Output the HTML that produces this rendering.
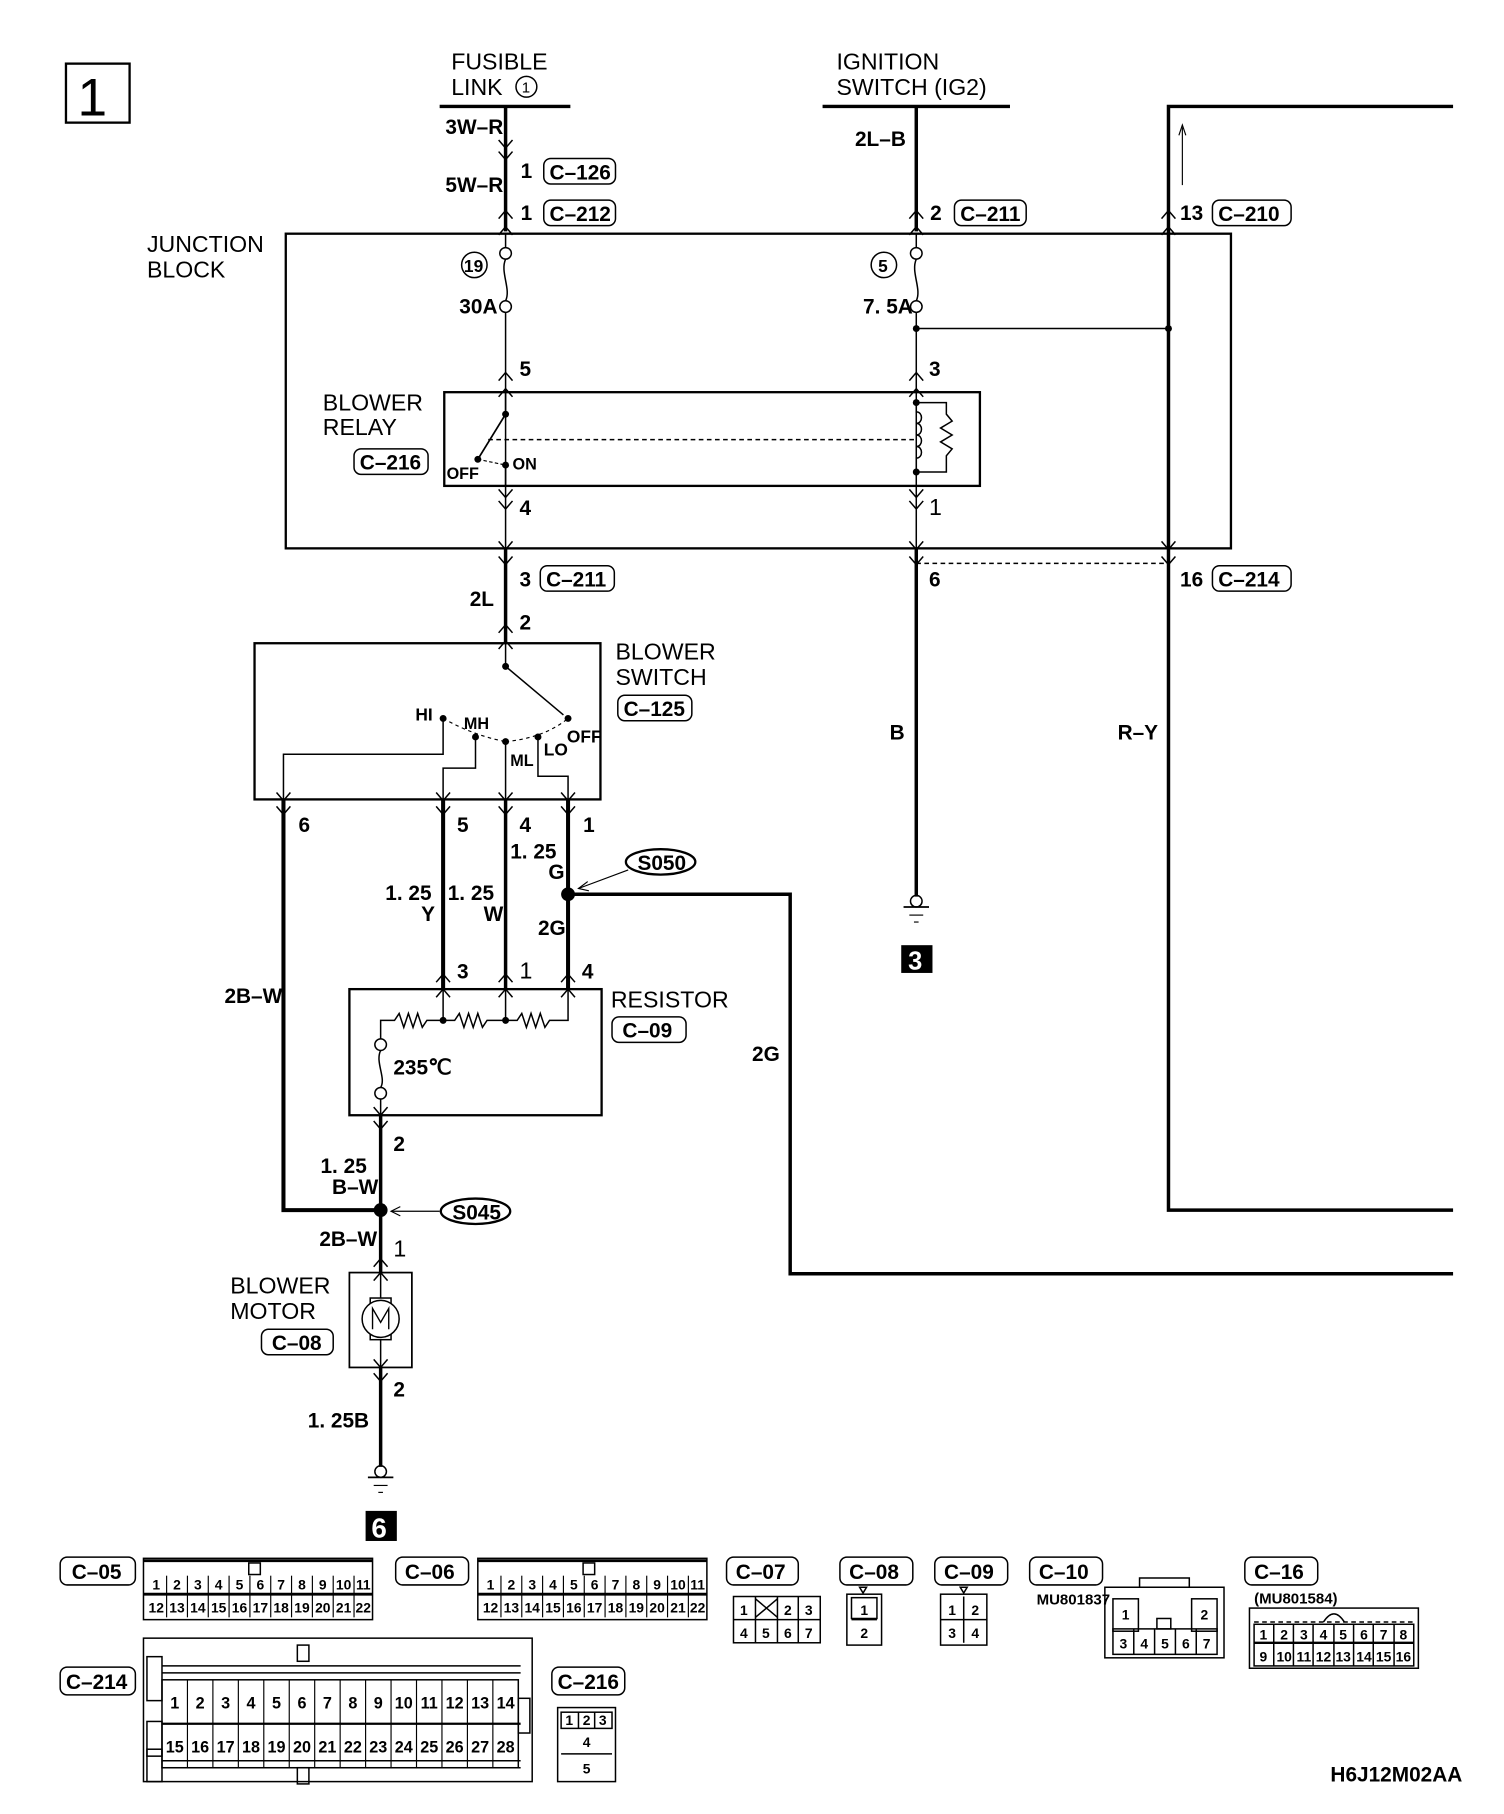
<!DOCTYPE html>
<html><head><meta charset="utf-8"><style>
html,body{margin:0;padding:0;background:#fff}
svg{display:block}
text{font-family:"Liberation Sans Narrow","Liberation Sans",sans-serif;fill:#000}
.b{font-weight:bold;font-size:18px}
.n{font-size:20px}
.s{font-weight:bold;font-size:13px}
.p{font-weight:bold;font-size:12px;text-anchor:middle}
.q{font-weight:bold;font-size:10px;text-anchor:middle}
.r{font-weight:bold;font-size:14px;text-anchor:middle}
</style></head><body>
<svg width="1504" height="1814" viewBox="0 0 1300 1568" xmlns="http://www.w3.org/2000/svg">
<defs>
<path id="u" d="M-6,7 L0,0 L6,7" fill="none" stroke="#000" stroke-width="1.3"/>
<path id="d" d="M-6,-7 L0,0 L6,-7" fill="none" stroke="#000" stroke-width="1.3"/>
</defs>
<g fill="none" stroke="#000">
<rect x="57" y="55" width="55" height="51" stroke-width="2"/>
<line x1="380" y1="92" x2="493" y2="92" stroke-width="3"/>
<line x1="711" y1="92" x2="873" y2="92" stroke-width="3"/>
<polyline points="1256,92 1010,92 1010,1046 1256,1046" stroke-width="3"/>
<line x1="1022" y1="160" x2="1022" y2="110" stroke-width="1"/>
<path d="M1019,117 L1022,108 L1025,117" stroke-width="1"/>
<line x1="437" y1="92" x2="437" y2="200" stroke-width="3"/>
<line x1="792" y1="92" x2="792" y2="200" stroke-width="3"/>
<rect x="247" y="202" width="817" height="272" stroke-width="2"/>
<line x1="437" y1="202" x2="437" y2="214" stroke-width="1.3"/>
<circle cx="437" cy="219" r="5" stroke-width="1.3"/>
<path d="M437,224 C432,235 442,250 437,260" stroke-width="1.3"/>
<circle cx="437" cy="265" r="5" stroke-width="1.3"/>
<line x1="437" y1="270" x2="437" y2="474" stroke-width="1.3"/>
<line x1="792" y1="202" x2="792" y2="214" stroke-width="1.3"/>
<circle cx="792" cy="219" r="5" stroke-width="1.3"/>
<path d="M792,224 C787,235 797,250 792,260" stroke-width="1.3"/>
<circle cx="792" cy="265" r="5" stroke-width="1.3"/>
<line x1="792" y1="270" x2="792" y2="474" stroke-width="1.3"/>
<line x1="792" y1="284" x2="1010" y2="284" stroke-width="1.3"/>
<line x1="1010" y1="202" x2="1010" y2="474" stroke-width="1.3"/>
<rect x="384" y="339" width="463" height="81" stroke-width="2"/>
<line x1="437" y1="339" x2="437" y2="358" stroke-width="1.3"/>
<line x1="437" y1="358" x2="413" y2="397" stroke-width="1.5"/>
<line x1="422" y1="380" x2="790" y2="380" stroke-width="1.3" stroke-dasharray="4,3"/>
<path d="M413,397 L437,402" stroke-width="1" stroke-dasharray="3,2"/>
<line x1="437" y1="402" x2="437" y2="420" stroke-width="1.3"/>
<path d="M792,348 L818,348 L818,358 L823,364 L813,370 L823,376 L813,382 L823,388 L818,394 L818,408 L792,408" stroke-width="1.3"/>
<path d="M792,348 L792,356 C798,356 798,366 792,366 C798,366 798,376 792,376 C798,376 798,386 792,386 C798,386 798,396 792,396 L792,408" stroke-width="1.3"/>
<line x1="792" y1="487" x2="1010" y2="487" stroke-width="1.3" stroke-dasharray="4,3"/>
<line x1="437" y1="474" x2="437" y2="556" stroke-width="3"/>
<line x1="792" y1="474" x2="792" y2="775" stroke-width="3"/>
<rect x="220" y="556" width="299" height="135" stroke-width="2"/>
<line x1="437" y1="556" x2="437" y2="576" stroke-width="1.3"/>
<line x1="437" y1="576" x2="487" y2="618" stroke-width="1.3"/>
<path d="M383,621 Q410,636 437,641" stroke-width="1" stroke-dasharray="3,3"/>
<path d="M437,641 Q470,638 491,621" stroke-width="1" stroke-dasharray="3,3"/>
<polyline points="383,621 383,652 245,652 245,691" stroke-width="1.3"/>
<polyline points="411,637 411,664 383,664 383,691" stroke-width="1.3"/>
<line x1="437" y1="641" x2="437" y2="691" stroke-width="1.3"/>
<polyline points="465,637 465,671 491,671 491,691" stroke-width="1.3"/>
<polyline points="245,691 245,1046 329,1046" stroke-width="3.5"/>
<line x1="383" y1="691" x2="383" y2="855" stroke-width="3.5"/>
<line x1="437" y1="691" x2="437" y2="855" stroke-width="3"/>
<line x1="491" y1="691" x2="491" y2="855" stroke-width="3.5"/>
<polyline points="491,773 683,773 683,1101 1256,1101" stroke-width="3"/>
<ellipse cx="571" cy="745" rx="30" ry="11" stroke-width="2"/>
<line x1="543" y1="752" x2="500" y2="768" stroke-width="1"/>
<path d="M508,762 L500,768 L509,770" stroke-width="1"/>
<rect x="302" y="855" width="218" height="109" stroke-width="2"/>
<path d="M329,898 L329,882 L341,882 L345,876 L349,888 L353,876 L357,888 L361,876 L365,888 L369,882 L383,882 L393,882 L397,876 L401,888 L405,876 L409,888 L413,876 L417,888 L421,882 L437,882 L447,882 L451,876 L455,888 L459,876 L463,888 L467,876 L471,888 L475,882 L491,882 L491,855" stroke-width="1.3"/>
<line x1="383" y1="855" x2="383" y2="882" stroke-width="1.3"/>
<line x1="437" y1="855" x2="437" y2="882" stroke-width="1.3"/>
<circle cx="329" cy="903" r="5" stroke-width="1.3"/>
<path d="M329,908 C324,918 334,932 329,940" stroke-width="1.3"/>
<circle cx="329" cy="945" r="5" stroke-width="1.3"/>
<line x1="329" y1="950" x2="329" y2="964" stroke-width="1.3"/>
<line x1="329" y1="964" x2="329" y2="1100" stroke-width="3"/>
<ellipse cx="411" cy="1047" rx="30" ry="11" stroke-width="2"/>
<line x1="380" y1="1047" x2="338" y2="1047" stroke-width="1"/>
<path d="M346,1043 L338,1047 L346,1051" stroke-width="1"/>
<rect x="302" y="1100" width="54" height="82" stroke-width="1.5"/>
<line x1="329" y1="1100" x2="329" y2="1122" stroke-width="1.3"/>
<rect x="320" y="1122" width="18" height="36" stroke-width="1.3" fill="#fff"/>
<circle cx="329" cy="1140" r="16" stroke-width="1.3" fill="#fff"/>
<path d="M322,1149 L322,1131 L329,1143 L336,1131 L336,1149" stroke-width="1.2"/>
<line x1="329" y1="1158" x2="329" y2="1182" stroke-width="1.3"/>
<line x1="329" y1="1182" x2="329" y2="1268" stroke-width="3"/>
<circle cx="329" cy="1272" r="5" stroke-width="1.3"/>
<line x1="318" y1="1277" x2="340" y2="1277" stroke-width="1.5"/>
<line x1="323" y1="1284" x2="335" y2="1284" stroke-width="1"/>
<line x1="327" y1="1290" x2="331" y2="1290" stroke-width="1"/>
<circle cx="792" cy="779" r="5" stroke-width="1.3"/>
<line x1="781" y1="784" x2="803" y2="784" stroke-width="1.5"/>
<line x1="786" y1="791" x2="798" y2="791" stroke-width="1"/>
<line x1="790" y1="797" x2="794" y2="797" stroke-width="1"/>
</g>
<g fill="#000">
<circle cx="792" cy="284" r="3"/><circle cx="1010" cy="284" r="3"/>
<circle cx="437" cy="358" r="3"/><circle cx="413" cy="397" r="3"/><circle cx="437" cy="402" r="3"/>
<circle cx="792" cy="348" r="3"/><circle cx="792" cy="408" r="3"/>
<circle cx="437" cy="576" r="3"/><circle cx="491" cy="621" r="3"/>
<circle cx="383" cy="621" r="3"/><circle cx="411" cy="637" r="3"/><circle cx="437" cy="641" r="3"/><circle cx="465" cy="637" r="3"/>
<circle cx="491" cy="773" r="6"/><circle cx="329" cy="1046" r="6"/>
<circle cx="383" cy="882" r="3"/><circle cx="437" cy="882" r="3"/>
<rect x="779" y="817" width="27" height="24"/>
<rect x="316" y="1306" width="27" height="26"/>
</g>
<use href="#d" x="437" y="128"/><use href="#d" x="437" y="138"/>
<use href="#u" x="437" y="182"/><use href="#u" x="437" y="196"/>
<use href="#u" x="792" y="182"/><use href="#u" x="792" y="196"/>
<use href="#u" x="1010" y="182"/><use href="#u" x="1010" y="196"/>
<use href="#u" x="437" y="322"/><use href="#u" x="437" y="336"/>
<use href="#u" x="792" y="322"/><use href="#u" x="792" y="336"/>
<use href="#d" x="437" y="430"/><use href="#d" x="437" y="440"/>
<use href="#d" x="792" y="430"/><use href="#d" x="792" y="440"/>
<use href="#d" x="437" y="475"/><use href="#d" x="437" y="488"/>
<use href="#d" x="792" y="475"/><use href="#d" x="792" y="488"/>
<use href="#d" x="1010" y="475"/><use href="#d" x="1010" y="488"/>
<use href="#u" x="437" y="540"/><use href="#u" x="437" y="554"/>
<use href="#d" x="245" y="692"/><use href="#d" x="245" y="704"/>
<use href="#d" x="383" y="692"/><use href="#d" x="383" y="704"/>
<use href="#d" x="437" y="692"/><use href="#d" x="437" y="704"/>
<use href="#d" x="491" y="692"/><use href="#d" x="491" y="704"/>
<use href="#u" x="383" y="842"/><use href="#u" x="383" y="855"/>
<use href="#u" x="437" y="842"/><use href="#u" x="437" y="855"/>
<use href="#u" x="491" y="842"/><use href="#u" x="491" y="855"/>
<use href="#d" x="329" y="964"/><use href="#d" x="329" y="976"/>
<use href="#u" x="329" y="1088"/><use href="#u" x="329" y="1100"/>
<use href="#d" x="329" y="1182"/><use href="#d" x="329" y="1194"/>
<text x="67" y="100" font-size="46">1</text>
<text class="n" x="390" y="60">FUSIBLE</text><text class="n" x="390" y="82">LINK</text>
<circle cx="455" cy="75" r="9" fill="none" stroke="#000" stroke-width="1.3"/><text x="451" y="80" font-size="13">1</text>
<text class="n" x="723" y="60">IGNITION</text><text class="n" x="723" y="82">SWITCH (IG2)</text>
<text class="b" x="385" y="116">3W–R</text>
<text class="b" x="385" y="166">5W–R</text>
<text class="b" x="739" y="126">2L–B</text>
<text class="b" x="450" y="154">1</text>
<text class="b" x="450" y="190">1</text>
<text class="b" x="804" y="190">2</text>
<text class="b" x="1020" y="190">13</text>
<text class="n" x="127" y="218">JUNCTION</text><text class="n" x="127" y="240">BLOCK</text>
<circle cx="410" cy="229" r="11" fill="none" stroke="#000" stroke-width="1.3"/><text x="401" y="235" font-size="15" font-weight="bold">19</text>
<circle cx="764" cy="229" r="11" fill="none" stroke="#000" stroke-width="1.3"/><text x="759" y="235" font-size="15" font-weight="bold">5</text>
<text class="b" x="397" y="271" font-size="16">30A</text>
<text class="b" x="746" y="271" font-size="16">7. 5A</text>
<text class="b" x="449" y="325">5</text><text class="b" x="803" y="325">3</text>
<text class="b" x="449" y="445">4</text><text class="n" x="803" y="445">1</text>
<text class="n" x="279" y="355">BLOWER</text><text class="n" x="279" y="376">RELAY</text>
<text x="386" y="414" font-size="14" font-weight="bold">OFF</text>
<text x="443" y="406" font-size="14" font-weight="bold">ON</text>
<text class="b" x="449" y="507">3</text><text class="b" x="803" y="507">6</text><text class="b" x="1020" y="507">16</text>
<text class="b" x="406" y="524">2L</text><text class="b" x="449" y="544">2</text>
<text class="n" x="532" y="570">BLOWER</text><text class="n" x="532" y="592">SWITCH</text>
<text x="359" y="623" font-size="15" font-weight="bold">HI</text>
<text x="401" y="630" font-size="14" font-weight="bold">MH</text>
<text x="441" y="662" font-size="14" font-weight="bold">ML</text>
<text x="470" y="653" font-size="15" font-weight="bold">LO</text>
<text x="490" y="642" font-size="15" font-weight="bold">OFF</text>
<text class="b" x="258" y="719">6</text><text class="b" x="395" y="719">5</text><text class="b" x="449" y="719">4</text><text class="b" x="504" y="719">1</text>
<text class="b" x="441" y="742">1. 25</text><text class="b" x="474" y="760">G</text>
<text class="b" x="333" y="778">1. 25</text><text class="b" x="364" y="796">Y</text>
<text class="b" x="387" y="778">1. 25</text><text class="b" x="418" y="796">W</text>
<text class="b" x="465" y="808">2G</text>
<text class="b" x="551" y="752" font-size="16">S050</text>
<text class="b" x="769" y="639">B</text><text class="b" x="966" y="639">R–Y</text>
<text x="785" y="838" font-size="22" font-weight="bold" style="fill:#fff">3</text>
<text class="b" x="395" y="846">3</text><text class="n" x="449" y="846">1</text><text class="b" x="503" y="846">4</text>
<text class="n" x="528" y="871">RESISTOR</text>
<text class="b" x="340" y="929" font-size="16">235℃</text>
<text class="b" x="194" y="867">2B–W</text>
<text class="b" x="650" y="917">2G</text>
<text class="b" x="340" y="995">2</text>
<text class="b" x="277" y="1014">1. 25</text><text class="b" x="287" y="1032">B–W</text>
<text class="b" x="391" y="1054" font-size="16">S045</text>
<text class="b" x="276" y="1077">2B–W</text>
<text class="n" x="340" y="1086">1</text>
<text class="n" x="199" y="1118">BLOWER</text><text class="n" x="199" y="1140">MOTOR</text>
<text class="b" x="340" y="1207">2</text>
<text class="b" x="266" y="1234">1. 25B</text>
<text x="321" y="1329" font-size="24" font-weight="bold" style="fill:#fff">6</text>
<text class="b" x="1150" y="1540" font-size="16">H6J12M02AA</text>
<text class="s" x="896" y="1387">MU801837</text>
<text class="s" x="1084" y="1386">(MU801584)</text>
<g fill="none" stroke="#000" stroke-width="1.3">
<rect x="470" y="137" width="62" height="22" rx="6"/>
<rect x="470" y="173" width="62" height="22" rx="6"/>
<rect x="825" y="173" width="62" height="22" rx="6"/>
<rect x="1048" y="173" width="68" height="22" rx="6"/>
<rect x="306" y="388" width="64" height="22" rx="6"/>
<rect x="467" y="489" width="64" height="22" rx="6"/>
<rect x="1048" y="489" width="68" height="22" rx="6"/>
<rect x="534" y="601" width="64" height="22" rx="6"/>
<rect x="529" y="879" width="64" height="22" rx="6"/>
<rect x="226" y="1149" width="62" height="22" rx="6"/>
<rect x="52" y="1346" width="65" height="24" rx="6"/>
<rect x="342" y="1346" width="63" height="24" rx="6"/>
<rect x="628" y="1346" width="62" height="24" rx="6"/>
<rect x="726" y="1346" width="63" height="24" rx="6"/>
<rect x="808" y="1346" width="63" height="24" rx="6"/>
<rect x="890" y="1346" width="63" height="24" rx="6"/>
<rect x="1076" y="1346" width="63" height="24" rx="6"/>
<rect x="52" y="1441" width="65" height="24" rx="6"/>
<rect x="477" y="1441" width="63" height="24" rx="6"/>
</g>
<g class="b">
<text x="475" y="155">C–126</text><text x="475" y="191">C–212</text><text x="830" y="191">C–211</text><text x="1053" y="191">C–210</text>
<text x="311" y="406">C–216</text><text x="472" y="507">C–211</text><text x="1053" y="507">C–214</text>
<text x="539" y="619">C–125</text><text x="538" y="897">C–09</text><text x="235" y="1167">C–08</text>
<text x="62" y="1365">C–05</text><text x="350" y="1365">C–06</text><text x="636" y="1365">C–07</text><text x="734" y="1365">C–08</text><text x="816" y="1365">C–09</text><text x="898" y="1365">C–10</text><text x="1084" y="1365">C–16</text>
<text x="57" y="1460">C–214</text><text x="482" y="1460">C–216</text>
</g>
<g fill="none" stroke="#000" stroke-width="1.3">
<rect x="124" y="1347" width="198" height="53"/><line x1="124" y1="1349" x2="322" y2="1349" stroke-width="2.5"/>
<line x1="124" y1="1378" x2="322" y2="1378" stroke-width="2.5"/>
<rect x="413" y="1347" width="198" height="53"/><line x1="413" y1="1349" x2="611" y2="1349" stroke-width="2.5"/>
<line x1="413" y1="1378" x2="611" y2="1378" stroke-width="2.5"/>
<rect x="215" y="1351" width="10" height="10"/><rect x="504" y="1351" width="10" height="10"/>
<rect x="634" y="1380" width="75" height="40"/><line x1="634" y1="1400" x2="709" y2="1400"/>
<line x1="653" y1="1380" x2="653" y2="1420"/><line x1="672" y1="1380" x2="672" y2="1420"/><line x1="690" y1="1380" x2="690" y2="1420"/>
<line x1="653" y1="1382" x2="672" y2="1398"/><line x1="672" y1="1382" x2="653" y2="1398"/>
<rect x="732" y="1378" width="30" height="44"/><rect x="736" y="1381" width="22" height="18"/><line x1="736" y1="1400" x2="758" y2="1400"/>
<path d="M743,1372 L749,1372 L746,1377Z"/>
<rect x="813" y="1378" width="40" height="44"/><line x1="813" y1="1400" x2="853" y2="1400"/><line x1="833" y1="1380" x2="833" y2="1420"/>
<path d="M830,1372 L836,1372 L833,1377Z"/>
<rect x="955" y="1372" width="103" height="61"/><rect x="985" y="1364" width="43" height="8"/>
<rect x="962" y="1382" width="22" height="28"/><rect x="1030" y="1382" width="22" height="28"/>
<rect x="962" y="1408" width="90" height="22"/>
<line x1="980" y1="1408" x2="980" y2="1430"/><line x1="998" y1="1408" x2="998" y2="1430"/><line x1="1016" y1="1408" x2="1016" y2="1430"/><line x1="1034" y1="1408" x2="1034" y2="1430"/>
<rect x="1000" y="1399" width="12" height="9"/>
<rect x="1080" y="1390" width="146" height="52"/>
<line x1="1084" y1="1402" x2="1222" y2="1402" stroke-dasharray="4,3"/><line x1="1084" y1="1420" x2="1222" y2="1420" stroke-width="2"/>
<rect x="1084" y="1404" width="138" height="36"/>
<line x1="1101" y1="1404" x2="1101" y2="1440"/><line x1="1118" y1="1404" x2="1118" y2="1440"/><line x1="1135" y1="1404" x2="1135" y2="1440"/><line x1="1153" y1="1404" x2="1153" y2="1440"/><line x1="1170" y1="1404" x2="1170" y2="1440"/><line x1="1187" y1="1404" x2="1187" y2="1440"/><line x1="1205" y1="1404" x2="1205" y2="1440"/>
<path d="M1144,1402 Q1153,1388 1162,1402"/>
<rect x="124" y="1416" width="336" height="124"/>
<line x1="140" y1="1440" x2="450" y2="1440"/><line x1="140" y1="1446" x2="450" y2="1446"/>
<line x1="140" y1="1490" x2="450" y2="1490" stroke-width="2"/>
<line x1="140" y1="1528" x2="450" y2="1528"/><line x1="140" y1="1522" x2="450" y2="1522"/>
<rect x="140" y="1452" width="308" height="76"/>
<rect x="127" y="1432" width="13" height="38"/><rect x="127" y="1488" width="13" height="30"/><rect x="127" y="1512" width="13" height="28"/>
<rect x="257" y="1422" width="10" height="14"/><rect x="257" y="1528" width="10" height="14"/>
<rect x="448" y="1468" width="10" height="30"/>
<rect x="482" y="1476" width="50" height="64"/><rect x="485" y="1480" width="44" height="14"/>
<line x1="500" y1="1480" x2="500" y2="1494"/><line x1="514" y1="1480" x2="514" y2="1494"/>
<line x1="485" y1="1516" x2="529" y2="1516"/>
</g>
<g stroke="#000" stroke-width="1">
<line x1="162" y1="1452" x2="162" y2="1528"/><line x1="184" y1="1452" x2="184" y2="1528"/><line x1="206" y1="1452" x2="206" y2="1528"/><line x1="228" y1="1452" x2="228" y2="1528"/><line x1="250" y1="1452" x2="250" y2="1528"/><line x1="272" y1="1452" x2="272" y2="1528"/><line x1="294" y1="1452" x2="294" y2="1528"/><line x1="316" y1="1452" x2="316" y2="1528"/><line x1="338" y1="1452" x2="338" y2="1528"/><line x1="360" y1="1452" x2="360" y2="1528"/><line x1="382" y1="1452" x2="382" y2="1528"/><line x1="404" y1="1452" x2="404" y2="1528"/><line x1="426" y1="1452" x2="426" y2="1528"/>
<line x1="144" y1="1362" x2="144" y2="1398"/><line x1="162" y1="1362" x2="162" y2="1398"/><line x1="180" y1="1362" x2="180" y2="1398"/><line x1="198" y1="1362" x2="198" y2="1398"/><line x1="216" y1="1362" x2="216" y2="1398"/><line x1="234" y1="1362" x2="234" y2="1398"/><line x1="252" y1="1362" x2="252" y2="1398"/><line x1="270" y1="1362" x2="270" y2="1398"/><line x1="288" y1="1362" x2="288" y2="1398"/><line x1="306" y1="1362" x2="306" y2="1398"/>
<line x1="433" y1="1362" x2="433" y2="1398"/><line x1="451" y1="1362" x2="451" y2="1398"/><line x1="469" y1="1362" x2="469" y2="1398"/><line x1="487" y1="1362" x2="487" y2="1398"/><line x1="505" y1="1362" x2="505" y2="1398"/><line x1="523" y1="1362" x2="523" y2="1398"/><line x1="541" y1="1362" x2="541" y2="1398"/><line x1="559" y1="1362" x2="559" y2="1398"/><line x1="577" y1="1362" x2="577" y2="1398"/><line x1="595" y1="1362" x2="595" y2="1398"/>
</g>
<g class="p">
<text x="135" y="1374">1</text><text x="153" y="1374">2</text><text x="171" y="1374">3</text><text x="189" y="1374">4</text><text x="207" y="1374">5</text><text x="225" y="1374">6</text><text x="243" y="1374">7</text><text x="261" y="1374">8</text><text x="279" y="1374">9</text><text x="297" y="1374">10</text><text x="314" y="1374">11</text>
<text x="135" y="1394">12</text><text x="153" y="1394">13</text><text x="171" y="1394">14</text><text x="189" y="1394">15</text><text x="207" y="1394">16</text><text x="225" y="1394">17</text><text x="243" y="1394">18</text><text x="261" y="1394">19</text><text x="279" y="1394">20</text><text x="297" y="1394">21</text><text x="314" y="1394">22</text>
<text x="424" y="1374">1</text><text x="442" y="1374">2</text><text x="460" y="1374">3</text><text x="478" y="1374">4</text><text x="496" y="1374">5</text><text x="514" y="1374">6</text><text x="532" y="1374">7</text><text x="550" y="1374">8</text><text x="568" y="1374">9</text><text x="586" y="1374">10</text><text x="603" y="1374">11</text>
<text x="424" y="1394">12</text><text x="442" y="1394">13</text><text x="460" y="1394">14</text><text x="478" y="1394">15</text><text x="496" y="1394">16</text><text x="514" y="1394">17</text><text x="532" y="1394">18</text><text x="550" y="1394">19</text><text x="568" y="1394">20</text><text x="586" y="1394">21</text><text x="603" y="1394">22</text>
<text x="643" y="1396">1</text><text x="681" y="1396">2</text><text x="699" y="1396">3</text>
<text x="643" y="1416">4</text><text x="662" y="1416">5</text><text x="681" y="1416">6</text><text x="699" y="1416">7</text>
<text x="747" y="1396">1</text><text x="747" y="1416">2</text>
<text x="823" y="1396">1</text><text x="843" y="1396">2</text><text x="823" y="1416">3</text><text x="843" y="1416">4</text>
<text x="973" y="1400">1</text><text x="1041" y="1400">2</text>
<text x="971" y="1425">3</text><text x="989" y="1425">4</text><text x="1007" y="1425">5</text><text x="1025" y="1425">6</text><text x="1043" y="1425">7</text>
<text x="1092" y="1417">1</text><text x="1110" y="1417">2</text><text x="1127" y="1417">3</text><text x="1144" y="1417">4</text><text x="1161" y="1417">5</text><text x="1179" y="1417">6</text><text x="1196" y="1417">7</text><text x="1213" y="1417">8</text>
<text x="1092" y="1436">9</text><text x="1110" y="1436">10</text><text x="1127" y="1436">11</text><text x="1144" y="1436">12</text><text x="1161" y="1436">13</text><text x="1179" y="1436">14</text><text x="1196" y="1436">15</text><text x="1213" y="1436">16</text>
<text x="492" y="1491">1</text><text x="507" y="1491">2</text><text x="521" y="1491">3</text>
<text x="507" y="1510">4</text><text x="507" y="1533">5</text>
</g>
<g class="r">
<text x="151" y="1477">1</text><text x="173" y="1477">2</text><text x="195" y="1477">3</text><text x="217" y="1477">4</text><text x="239" y="1477">5</text><text x="261" y="1477">6</text><text x="283" y="1477">7</text><text x="305" y="1477">8</text><text x="327" y="1477">9</text><text x="349" y="1477">10</text><text x="371" y="1477">11</text><text x="393" y="1477">12</text><text x="415" y="1477">13</text><text x="437" y="1477">14</text>
<text x="151" y="1515">15</text><text x="173" y="1515">16</text><text x="195" y="1515">17</text><text x="217" y="1515">18</text><text x="239" y="1515">19</text><text x="261" y="1515">20</text><text x="283" y="1515">21</text><text x="305" y="1515">22</text><text x="327" y="1515">23</text><text x="349" y="1515">24</text><text x="371" y="1515">25</text><text x="393" y="1515">26</text><text x="415" y="1515">27</text><text x="437" y="1515">28</text>
</g>
</svg>
</body></html>
